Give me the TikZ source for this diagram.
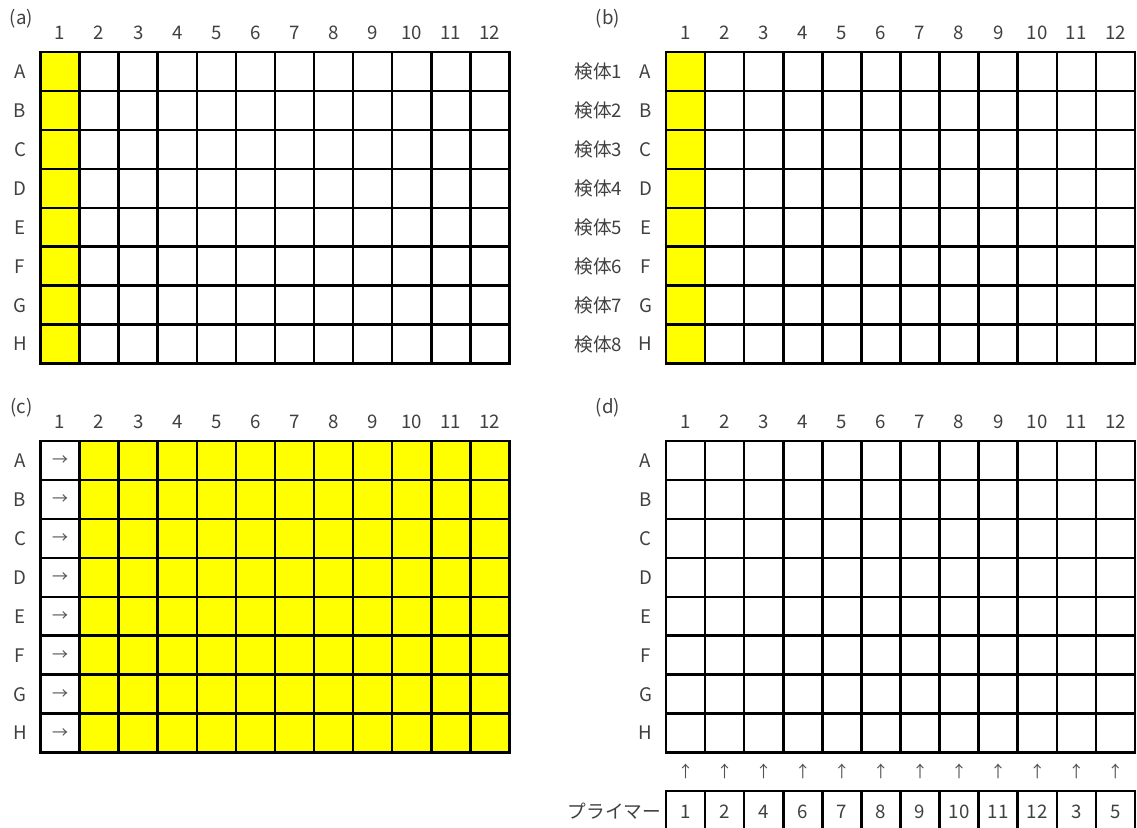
\documentclass[tikz,border=0pt]{standalone}
\usepackage{fontspec}
\setmainfont{Noto Sans CJK JP}
\definecolor{txt}{HTML}{404040}
\definecolor{arr}{HTML}{505050}
\definecolor{plateyellow}{HTML}{FFFF00}
\newcommand\cw{39.08}
\newcommand\rh{38.95}
\begin{document}
\begin{tikzpicture}[x=0.75pt,y=-0.75pt,
  lbl/.style={text=txt, font=\fontsize{14}{16}\selectfont, inner sep=0pt},
  cjk/.style={text=txt, font=\fontsize{14}{16}\selectfont, inner sep=0pt},
  arrowtxt/.style={text=arr, font=\fontsize{12}{14}\selectfont, inner sep=0pt},
  gridline/.style={line width=1.9pt, draw=black, line cap=rect},
  wellfill/.style={fill=plateyellow}]
\useasboundingbox (0,0) rectangle (1137,827);
% ---------- fills ----------
% (a)
\fill[wellfill] (40.5,52) rectangle ++(\cw,8*\rh);
% (b)
\fill[wellfill] (666,52) rectangle ++(\cw,8*\rh);
% (c)
\fill[wellfill] ({40.5+\cw},441) rectangle ++({11*\cw},8*\rh);
% ---------- grids ----------
\foreach \gx/\gy in {40.5/52, 666/52, 40.5/441, 666/441}{
  \foreach \i in {0,...,12}
    \draw[gridline] ({\gx+\i*\cw},\gy) -- ++(0,{8*\rh});
  \foreach \j in {0,...,8}
    \draw[gridline] (\gx,{\gy+\j*\rh}) -- ++({12*\cw},0);
}
% primer strip
\foreach \i in {0,...,12}
  \draw[gridline] ({666+\i*\cw},791) -- ++(0,50);
\draw[gridline] (666,791) -- ++({12*\cw},0);
% ---------- panel labels ----------
\node[lbl] (pa) at (21.5,19) {(a)};
\node[lbl] (pb) at (608,19) {(b)};
\node[lbl] (pc) at (21.5,408) {(c)};
\node[lbl] (pd) at (608,408) {(d)};
% ---------- column and row labels ----------
\foreach \p/\gx/\gy in {a/40.5/52, b/666/52, c/40.5/441, d/666/441}{
  \foreach \i in {1,...,12}
    \node[lbl] (\p-col\i) at ({\gx+(\i-0.5)*\cw},{\gy-19}) {\i};
  \foreach \r [count=\j] in {A,B,C,D,E,F,G,H}
    \node[lbl] (\p-row\r) at ({\gx-20.5},{\gy+(\j-0.5)*\rh}) {\r};
}
% (b) sample names
\foreach \j in {1,...,8}
  \node[cjk] (b-sample\j) at (598.5,{52+(\j-0.5)*\rh}) {検体\j};
% (c) arrows
\foreach \j in {1,...,8}
  \node[arrowtxt] (c-arrow\j) at ({40.5+0.5*\cw},{441+(\j-0.5)*\rh}) {→};
% (d) up arrows and primers
\foreach \i in {1,...,12}
  \node[arrowtxt] (d-up\i) at ({666+(\i-0.5)*\cw},771) {↑};
\foreach \v [count=\i] in {1,2,4,6,7,8,9,10,11,12,3,5}
  \node[lbl] (d-primer\i) at ({666+(\i-0.5)*\cw},811.5) {\v};
\node[cjk] (primer) at (614.5,811.5) {プライマー};
\end{tikzpicture}
\end{document}
